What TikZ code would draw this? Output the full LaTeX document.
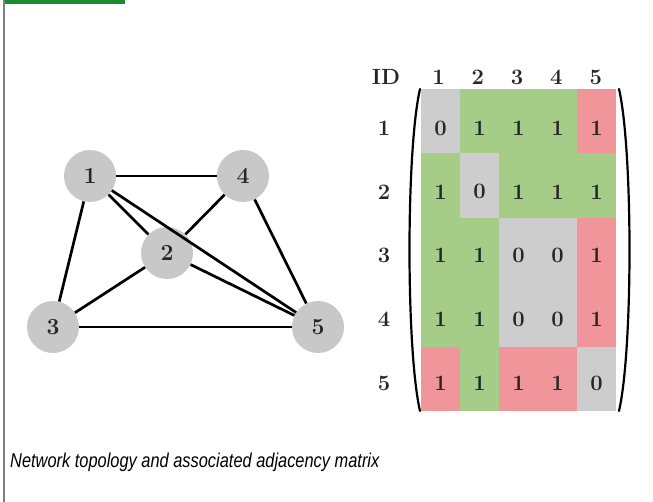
\documentclass[tikz,border=0pt]{standalone}
\usepackage{fontspec}
\usepackage{graphicx}
\newfontfamily\capfont{Liberation Sans}
\definecolor{bargreen}{HTML}{1B8C2B}
\definecolor{framegrey}{HTML}{808080}
\definecolor{vgrey}{HTML}{C8C8C8}
\definecolor{cgrey}{HTML}{CDCDCD}
\definecolor{cgreen}{HTML}{A5CD88}
\definecolor{cred}{HTML}{F0969B}
\tikzset{
  vertex/.style={circle, fill=vgrey, minimum size=52pt, inner sep=0pt,
    font=\fontsize{23}{23}\selectfont\bfseries, text=black!85},
  link/.style={line width=2.7pt, black},
  entry/.style={font=\fontsize{22}{22}\selectfont\bfseries, inner sep=0pt, text=black!85},
  paren/.style={line width=2.2pt, black, line cap=round},
}
\begin{document}
\begin{tikzpicture}[x=1pt, y=-1pt]
\useasboundingbox (0,0) rectangle (653,502);
\fill[white] (0,0) rectangle (653,502);
% frame decoration
\fill[bargreen] (4,0) rectangle (125,4.5);
\fill[framegrey] (2.5,0) rectangle (4.5,502);

% graph
\node[vertex] (v1) at (90,176) {1};
\node[vertex] (v4) at (243,176) {4};
\node[vertex] (v2) at (167,253) {2};
\node[vertex] (v3) at (53,327) {3};
\node[vertex] (v5) at (318,327) {5};
\draw[link] (v1) -- (v4);
\draw[link] (v1) -- (v3);
\draw[link] (v1) -- (v2);
\draw[link] (v1) -- (v5);
\draw[link] (v2) -- (v4);
\draw[link] (v2) -- (v3);
\draw[link] (v2) -- (v5);
\draw[link] (v3) -- (v5);
\draw[link] (v4) -- (v5);

% adjacency matrix cells
\def\cw{39}
\def\ch{64.4}
\foreach \row/\cols in {1/{cgrey,cgreen,cgreen,cgreen,cred},
                        2/{cgreen,cgrey,cgreen,cgreen,cgreen},
                        3/{cgreen,cgreen,cgrey,cgrey,cred},
                        4/{cgreen,cgreen,cgrey,cgrey,cred},
                        5/{cred,cgreen,cred,cred,cgrey}}{
  \foreach \c [count=\col] in \cols {
    \fill[\c] ({421+(\col-1)*\cw},{89+(\row-1)*\ch}) rectangle ++(\cw+0.3,\ch+0.3);
  }
}
\foreach \row/\vals in {1/{0,1,1,1,1}, 2/{1,0,1,1,1}, 3/{1,1,0,0,1},
                        4/{1,1,0,0,1}, 5/{1,1,1,1,0}}{
  \foreach \v [count=\col] in \vals {
    \node[entry] (m\row\col) at ({440.5+(\col-1)*\cw},{128+(\row-1)*63.8}) {\v};
  }
}
% headers
\node[entry] (hid) at (386,77) {ID};
\foreach \col in {1,...,5}{
  \node[entry] (h\col) at ({438.5+(\col-1)*39.3},77) {\col};
}
\foreach \row in {1,...,5}{
  \node[entry] (r\row) at (384,{128+(\row-1)*63.8}) {\row};
}
% brackets
\coordinate (lpt) at (420,89);
\coordinate (lpb) at (420,411);
\coordinate (rpt) at (619,89);
\coordinate (rpb) at (619,411);
\draw[paren] (lpt) .. controls (406,150) and (406,350) .. (lpb);
\draw[paren] (rpt) .. controls (633,150) and (633,350) .. (rpb);

% caption
\node[anchor=base west, inner sep=0pt] (cap) at (10,467)
  {\scalebox{0.82}[1]{\capfont\itshape\fontsize{20}{20}\selectfont Network topology and associated adjacency matrix}};
\end{tikzpicture}
\end{document}
